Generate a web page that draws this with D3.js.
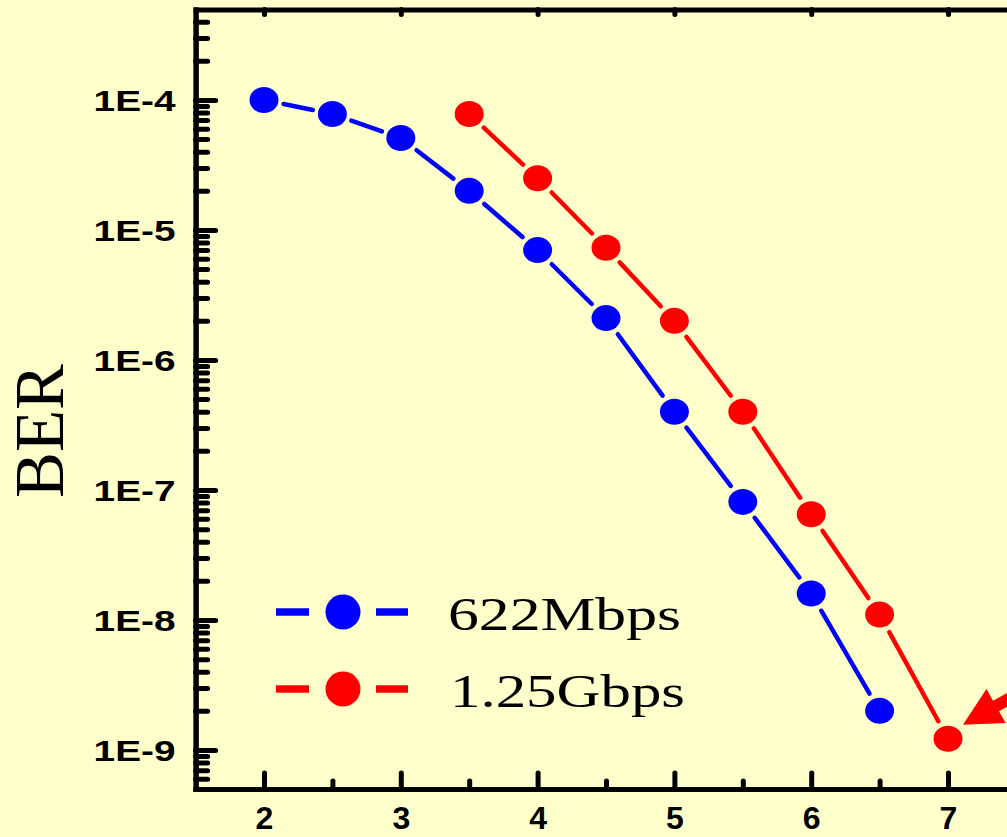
<!DOCTYPE html>
<html>
<head>
<meta charset="utf-8">
<script src="https://cdn.jsdelivr.net/npm/d3@7"></script>
<style>
html,body{margin:0;padding:0;background:#FFFFCC;overflow:hidden;}
svg{display:block;}
</style>
</head>
<body>
<script>
// ---- data ----
const seriesNames = ["622Mbps", "1.25Gbps"];
const seriesColors = ["#0000FF", "#FF0000"];
const x622 = [2, 2.5, 3, 3.5, 4, 4.5, 5, 5.5, 6, 6.5];
const ber622 = [1.0e-4, 7.8e-5, 5.1e-5, 2.0e-5, 7.0e-6, 2.1e-6, 4.0e-7, 8.1e-8, 1.6e-8, 2.0e-9];
const x125 = [3.5, 4, 4.5, 5, 5.5, 6, 6.5, 7];
const ber125 = [7.8e-5, 2.5e-5, 7.3e-6, 2.0e-6, 4.0e-7, 6.5e-8, 1.1e-8, 1.22e-9];
const xTicks = [2, 3, 4, 5, 6, 7];
const xMinorTicks = [2.5, 3.5, 4.5, 5.5, 6.5, 7.5];
const yTickLabels = ["1E-9", "1E-8", "1E-7", "1E-6", "1E-5", "1E-4"];
const yTicks = [1e-9, 1e-8, 1e-7, 1e-6, 1e-5, 1e-4];
const yTitle = "BER";

const W = 1007, H = 837;
const svg = d3.select("body").append("svg").attr("width", W).attr("height", H);
svg.append("rect").attr("width", W).attr("height", H).attr("fill", "#FFFFCC");

const x = d3.scaleLinear().domain([1.5, 7.5]).range([195.6, 195.6 + 6 * 136.8]);
const y = d3.scaleLog().domain([Math.pow(10, -9.3), Math.pow(10, -3.304)]).range([789, 9.5]);

// minor y ticks
const yMinor = [];
for (let e = -10; e <= -4; e++) {
  for (let m = 2; m <= 9; m++) {
    const v = m * Math.pow(10, e);
    if (v >= y.domain()[0] && v <= y.domain()[1]) yMinor.push(v);
  }
}

const axisStroke = 5;

// left axis minor ticks
svg.append("g").attr("transform", `translate(${x(1.5)},0)`)
  .call(d3.axisLeft(y).tickValues(yMinor).tickSizeInner(-12).tickSizeOuter(0).tickFormat(""));
// left axis major ticks
const gLeft = svg.append("g").attr("transform", `translate(${x(1.5)},0)`)
  .call(d3.axisLeft(y).tickValues(yTicks).tickSizeInner(-20).tickSizeOuter(0)
    .tickFormat((d, i) => yTickLabels[i]).tickPadding(0));
gLeft.selectAll("text")
  .attr("x", -20).attr("dy", null).attr("y", 11)
  .attr("font-family", "'Liberation Sans', Arial, sans-serif")
  .attr("font-weight", "bold").attr("font-size", 30)
  .attr("text-anchor", "end").attr("fill", "#000")
  .attr("textLength", 82).attr("lengthAdjust", "spacingAndGlyphs");

// bottom axis
svg.append("g").attr("transform", `translate(0,${y.range()[0]})`)
  .call(d3.axisBottom(x).tickValues(xMinorTicks).tickSizeInner(-8).tickSizeOuter(0).tickFormat(""));
const gBot = svg.append("g").attr("transform", `translate(0,${y.range()[0]})`)
  .call(d3.axisBottom(x).tickValues(xTicks).tickSizeInner(-16).tickSizeOuter(0).tickFormat(d3.format("d")));
gBot.selectAll("text")
  .attr("y", 40).attr("dy", null)
  .attr("font-family", "'Liberation Sans', Arial, sans-serif")
  .attr("font-weight", "bold").attr("font-size", 32).attr("fill", "#000");

// top axis line
svg.append("g").attr("transform", `translate(0,${y.range()[1]})`)
  .call(d3.axisTop(x).tickValues(xTicks).tickSizeInner(-5).tickSizeOuter(0).tickFormat(""));

svg.selectAll(".domain").attr("stroke", "#000").attr("stroke-width", axisStroke).attr("stroke-linecap", "square");
svg.selectAll(".tick line").attr("stroke", "#000").attr("stroke-width", 5).attr("stroke-linecap", "round");

// y title
svg.append("text")
  .attr("transform", "translate(63,431) rotate(-90)")
  .attr("text-anchor", "middle")
  .attr("font-family", "'Liberation Serif', 'Times New Roman', serif")
  .attr("font-size", 70).attr("fill", "#000")
  .attr("textLength", 134).attr("lengthAdjust", "spacingAndGlyphs")
  .text(yTitle);

// series
const series = [
  { name: seriesNames[0], color: seriesColors[0], xs: x622, ys: ber622 },
  { name: seriesNames[1], color: seriesColors[1], xs: x125, ys: ber125 }
];
const rx = 14.5, ry = 13, gap = 20;
series.forEach(s => {
  const pts = s.xs.map((v, i) => [x(v), y(s.ys[i])]);
  const g = svg.append("g");
  for (let i = 0; i < pts.length - 1; i++) {
    const [x1, y1] = pts[i], [x2, y2] = pts[i + 1];
    const dx = x2 - x1, dy = y2 - y1, L = Math.hypot(dx, dy);
    const ux = dx / L, uy = dy / L;
    g.append("line")
      .attr("x1", x1 + ux * gap).attr("y1", y1 + uy * gap)
      .attr("x2", x2 - ux * gap).attr("y2", y2 - uy * gap)
      .attr("stroke", s.color).attr("stroke-width", 4.5).attr("stroke-linecap", "round");
  }
  g.selectAll("ellipse").data(pts).enter().append("ellipse")
    .attr("cx", d => d[0]).attr("cy", d => d[1])
    .attr("rx", rx).attr("ry", ry).attr("fill", s.color);
});

// arrow annotation pointing at last 1.25Gbps point
{
  const px = x(x125[x125.length - 1]), py = y(ber125[ber125.length - 1]);
  const tip = [px + 15, py - 14];
  const ang = -29.6 * Math.PI / 180;
  const ux = Math.cos(ang), uy = Math.sin(ang);
  const nx = -uy, ny = ux;
  const headLen = 38, headHalf = 19.5;
  const base = [tip[0] + ux * headLen, tip[1] + uy * headLen];
  svg.append("line")
    .attr("x1", base[0] - ux * 2).attr("y1", base[1] - uy * 2)
    .attr("x2", base[0] + ux * 80).attr("y2", base[1] + uy * 80)
    .attr("stroke", "#FF0000").attr("stroke-width", 12);
  svg.append("polygon")
    .attr("points", [tip,
      [base[0] + nx * headHalf, base[1] + ny * headHalf],
      [base[0] - nx * headHalf, base[1] - ny * headHalf]].map(p => p.join(",")).join(" "))
    .attr("fill", "#FF0000");
}

// legend
const legY = [612, 689];
series.forEach((s, i) => {
  const g = svg.append("g");
  g.append("line").attr("x1", 276).attr("x2", 309).attr("y1", legY[i]).attr("y2", legY[i])
    .attr("stroke", s.color).attr("stroke-width", 7.5);
  g.append("line").attr("x1", 376).attr("x2", 408).attr("y1", legY[i]).attr("y2", legY[i])
    .attr("stroke", s.color).attr("stroke-width", 7.5);
  g.append("circle").attr("cx", 343).attr("cy", legY[i]).attr("r", 17.5).attr("fill", s.color);
  g.append("text").attr("x", i === 0 ? 448 : 450).attr("y", legY[i] + 18)
    .attr("font-family", "'Liberation Serif', 'Times New Roman', serif")
    .attr("font-size", 47).attr("fill", "#000")
    .attr("textLength", i === 0 ? 233 : 235).attr("lengthAdjust", "spacingAndGlyphs")
    .text(s.name);
});
</script>
</body>
</html>
